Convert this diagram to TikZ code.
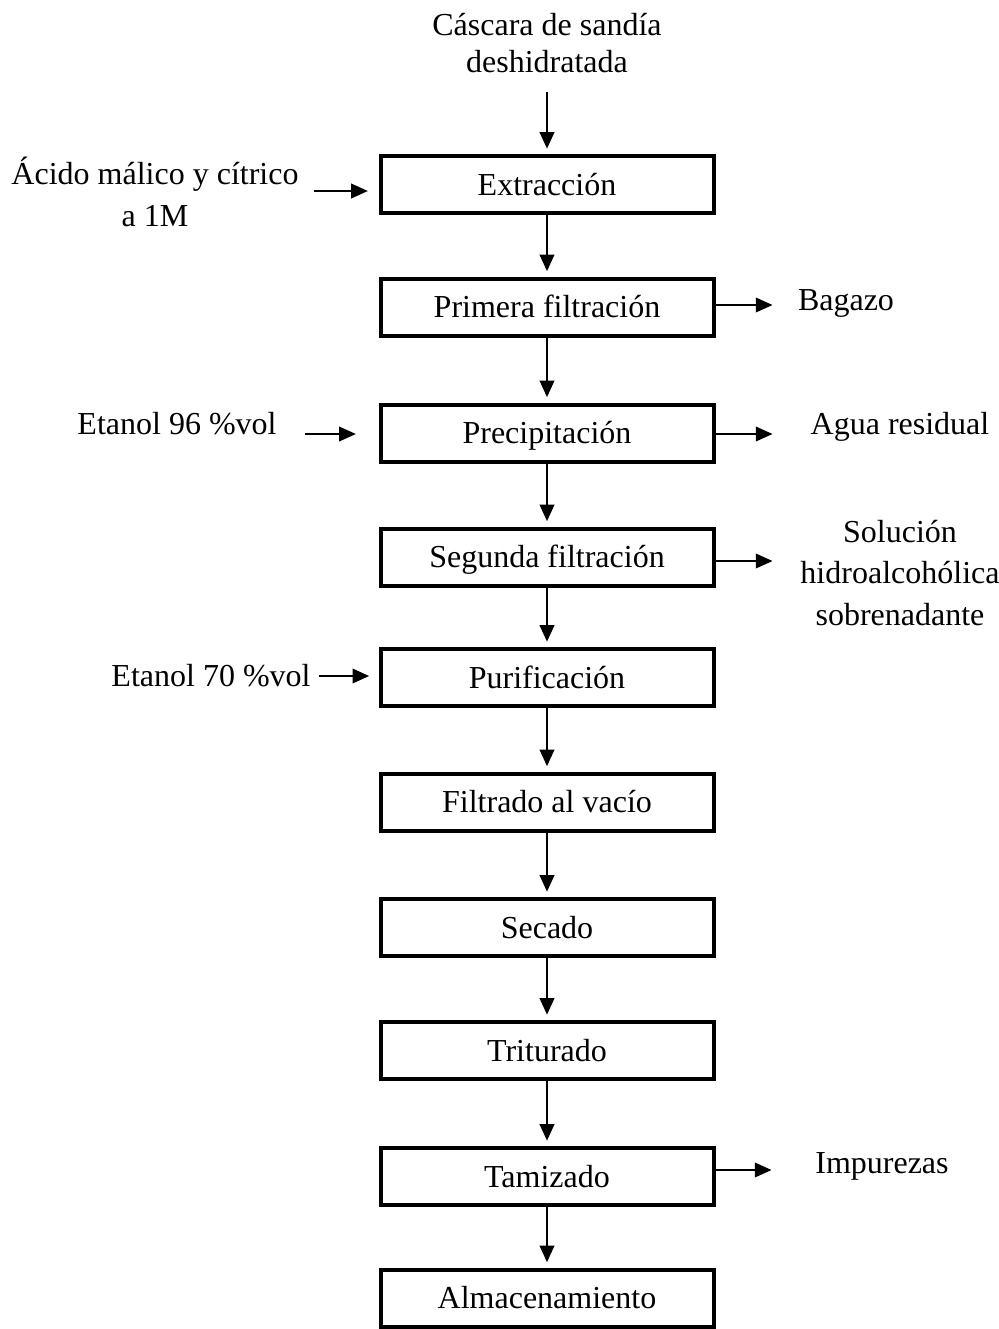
\documentclass[tikz,border=0pt]{standalone}
\usepackage{fontspec}
\setmainfont{Liberation Serif}
\usetikzlibrary{arrows.meta}

\begin{document}
\begin{tikzpicture}[x=0.75pt, y=-0.75pt,
    paso/.style={draw, line width=3pt, minimum width=249.75pt, minimum height=42.75pt,
        inner sep=0pt, text height=16pt, text depth=0pt, font=\fontsize{24}{28}\selectfont},
    texto/.style={align=center, font=\fontsize{24}{28}\selectfont},
    flecha/.style={-{Triangle[length=12.5pt, width=11pt]}, line width=1.6pt},
    salida/.style={flecha, line width=1.1pt}]

    \useasboundingbox (0,0) rectangle (999,1329);

    % Etapas del proceso
    \node[paso] (extr)   at (547,184.5)  {Extracción};
    \node[paso] (filt1)  at (547,307)    {Primera filtración};
    \node[paso] (precip) at (547,433)    {Precipitación};
    \node[paso] (filt2)  at (547,557)    {Segunda filtración};
    \node[paso] (purif)  at (547,677.5)  {Purificación};
    \node[paso] (vacio)  at (547,802)    {Filtrado al vacío};
    \node[paso] (secado) at (547,927.5)  {Secado};
    \node[paso] (trit)   at (547,1050.5) {Triturado};
    \node[paso] (tamiz)  at (547,1176.5) {Tamizado};
    \node[paso] (almac)  at (547,1298)   {Almacenamiento};

    % Flujo principal
    \coordinate (entrada) at (547,92);
    \draw[flecha, shorten >=4pt] (entrada) -- (extr.north);
    \foreach \a/\b in {extr/filt1, filt1/precip, precip/filt2, filt2/purif,
                       purif/vacio, vacio/secado, secado/trit, trit/tamiz, tamiz/almac} {
        \draw[flecha, shorten >=4pt] (\a.south) -- (\b.north);
    }

    % Entradas
    \node[texto] (cascara) at (547,43) {Cáscara de sandía\\deshidratada};
    \node[texto, font=\fontsize{24}{31}\selectfont] (acido) at (155,192) {Ácido málico y cítrico\\a 1M};
    \node[texto, anchor=base] (etanol96) at (177,434) {Etanol 96 \%vol};
    \node[texto, anchor=base] (etanol70) at (211,686) {Etanol 70 \%vol};

    \coordinate (acidoIn) at (314,191);
    \coordinate (et96In)  at (305,434);
    \coordinate (et70In)  at (319,676);
    \draw[salida, shorten >=8pt] (acidoIn) -- (acidoIn -| extr.west);
    \draw[salida, shorten >=17pt] (et96In) -- (et96In -| precip.west);
    \draw[salida, shorten >=7pt] (et70In) -- (et70In -| purif.west);

    % Salidas
    \node[texto, anchor=base] (bagazo)   at (846,310)  {Bagazo};
    \node[texto, anchor=base] (agua)     at (900,434)  {Agua residual};
    \node[texto, font=\fontsize{24}{31}\selectfont] (solucion) at (900,573) {Solución\\hidroalcohólica\\sobrenadante};
    \node[texto, anchor=base] (impurezas) at (882,1173) {Impurezas};

    \draw[salida] (filt1.east |- 0,305)  -- ++(57,0);
    \draw[salida] (precip.east |- 0,434) -- ++(57,0);
    \draw[salida] (filt2.east |- 0,561)  -- ++(57,0);
    \draw[salida] (tamiz.east |- 0,1170) -- ++(56,0);

\end{tikzpicture}
\end{document}
